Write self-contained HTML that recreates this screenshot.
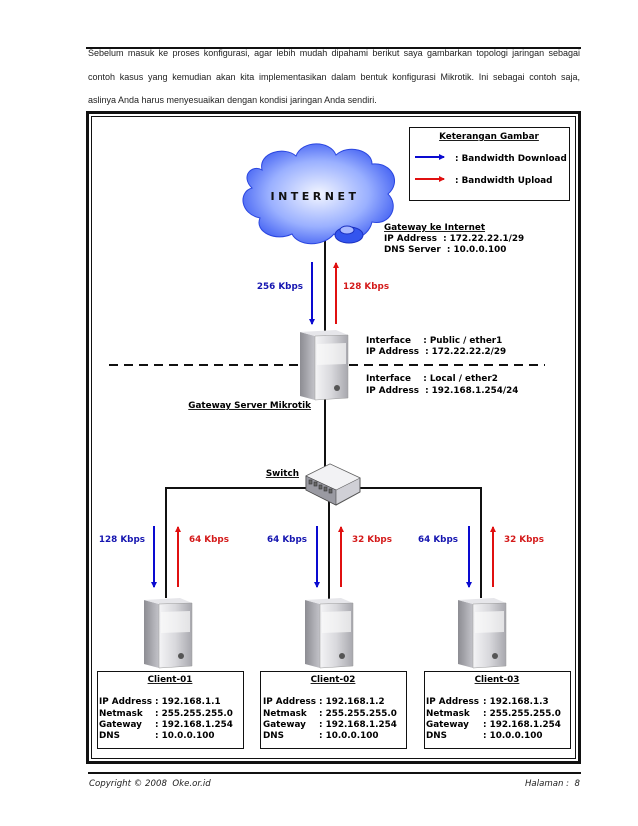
<!DOCTYPE html>
<html><head><meta charset="utf-8"><style>
body{margin:0;background:#fff;width:638px;height:826px;overflow:hidden;font-family:"DejaVu Sans","Liberation Sans",sans-serif}
.p{position:absolute;left:88px;width:492px;font-family:"Liberation Sans",sans-serif;font-size:9px;color:#222;text-align:justify;text-align-last:justify;white-space:nowrap}
</style></head><body>
<div style="position:absolute;left:86px;top:47px;width:495px;height:2px;background:#111"></div>
<div class="p" style="top:48px">Sebelum masuk ke proses konfigurasi, agar lebih mudah dipahami berikut saya gambarkan topologi jaringan sebagai</div>
<div class="p" style="top:72px">contoh kasus yang kemudian akan kita implementasikan dalam bentuk konfigurasi Mikrotik. Ini sebagai contoh saja,</div>
<div class="p" style="top:95px;text-align-last:left">aslinya Anda harus menyesuaikan dengan kondisi jaringan Anda sendiri.</div>
<svg width="638" height="826" style="position:absolute;left:0;top:0" xmlns="http://www.w3.org/2000/svg" font-family="DejaVu Sans, Liberation Sans, sans-serif" font-weight="bold" font-size="8.8">
<defs>
<radialGradient id="cg" cx="50%" cy="50%" r="60%"><stop offset="0" stop-color="#f2f5ff"/><stop offset="0.55" stop-color="#9ab0ff"/><stop offset="1" stop-color="#2f4ff0"/></radialGradient>
<linearGradient id="sf" x1="0" x2="1"><stop offset="0" stop-color="#f4f4f6"/><stop offset="0.5" stop-color="#d8d8dc"/><stop offset="1" stop-color="#a8a8ae"/></linearGradient>
<linearGradient id="ss" x1="0" x2="1"><stop offset="0" stop-color="#8c8c92"/><stop offset="1" stop-color="#c4c4ca"/></linearGradient>
<marker id="ab" markerWidth="6" markerHeight="6" refX="5" refY="3" orient="auto" markerUnits="userSpaceOnUse"><path d="M0,0 L6,3 L0,6z" fill="#0a0ad0"/></marker>
<marker id="ar" markerWidth="6" markerHeight="6" refX="5" refY="3" orient="auto" markerUnits="userSpaceOnUse"><path d="M0,0 L6,3 L0,6z" fill="#e01010"/></marker>
<g id="srv">
<path d="M0,2 L15,6 L15,70 L0,66z" fill="url(#ss)"/>
<path d="M15,6 L0,2 L36,0 L48,5z" fill="#e6e6ea"/>
<path d="M15,6 L48,5 L48,68 L15,70z" fill="url(#sf)" stroke="#999" stroke-width="0.5"/>
<path d="M17,14 L46,13 L46,34 L17,35z" fill="#fafafa" opacity="0.7"/>
<circle cx="37" cy="58" r="3" fill="#555"/>
</g>
</defs>
<rect x="87.5" y="112.5" width="492" height="650" fill="none" stroke="#111" stroke-width="3"/>
<rect x="91.5" y="116.5" width="484" height="642" fill="none" stroke="#111" stroke-width="1"/>
<rect x="409.5" y="127.5" width="160" height="73" fill="#fff" stroke="#111"/>
<text x="489" y="139" text-anchor="middle" text-decoration="underline">Keterangan Gambar</text>
<line x1="415" y1="157" x2="444" y2="157" stroke="#0a0ad0" stroke-width="2" marker-end="url(#ab)"/>
<line x1="415" y1="179" x2="444" y2="179" stroke="#e01010" stroke-width="2" marker-end="url(#ar)"/>
<text x="455" y="161">: Bandwidth Download</text>
<text x="455" y="183">: Bandwidth Upload</text>
<line x1="325" y1="235" x2="325" y2="470" stroke="#111" stroke-width="2"/>
<polyline points="166,598 166,488 481,488 481,598" fill="none" stroke="#111" stroke-width="2"/>
<line x1="329" y1="488" x2="329" y2="600" stroke="#111" stroke-width="2"/>
<line x1="109" y1="365" x2="545" y2="365" stroke="#111" stroke-width="2" stroke-dasharray="9,6"/>
<g fill="url(#cg)" stroke="#2a46e0" stroke-width="1">
<path d="M262,170 C258,152 285,146 296,156 C302,140 330,140 336,155 C348,144 372,150 372,164 C392,162 402,182 388,194 C400,206 390,226 372,222 C368,240 345,244 334,234 C322,248 298,246 292,234 C276,242 254,232 260,218 C240,214 238,192 252,188 C240,176 252,164 262,170z"/>
</g>
<ellipse cx="349" cy="235" rx="14" ry="8" fill="#3355ee" stroke="#1a30c0"/>
<ellipse cx="347" cy="230" rx="7" ry="4" fill="#a8b8ff" stroke="#1a30c0"/>
<text x="315" y="200" text-anchor="middle" font-size="11" letter-spacing="3.5" fill="#111">INTERNET</text>
<text x="384" y="230" text-decoration="underline">Gateway ke Internet</text>
<text x="384" y="241">IP Address&#160;&#160;: 172.22.22.1/29</text>
<text x="384" y="252">DNS Server&#160;&#160;: 10.0.0.100</text>
<line x1="312" y1="262" x2="312" y2="324" stroke="#0a0ad0" stroke-width="2" marker-end="url(#ab)"/>
<line x1="336" y1="324" x2="336" y2="263" stroke="#e01010" stroke-width="2" marker-end="url(#ar)"/>
<text x="303" y="289" text-anchor="end" fill="#1515b0">256 Kbps</text>
<text x="343" y="289" fill="#d41a1a">128 Kbps</text>
<use href="#srv" x="300" y="330"/>
<text x="366" y="343">Interface&#160;&#160;&#160;&#160;: Public / ether1</text>
<text x="366" y="354">IP Address&#160;&#160;: 172.22.22.2/29</text>
<text x="366" y="381">Interface&#160;&#160;&#160;&#160;: Local / ether2</text>
<text x="366" y="393">IP Address&#160;&#160;: 192.168.1.254/24</text>
<text x="311" y="408" text-anchor="end" text-decoration="underline">Gateway Server Mikrotik</text>
<path d="M306,476 L330,464 L360,478 L360,492 L336,505 L306,490z" fill="#d0d0d6" stroke="#555"/>
<path d="M306,476 L330,464 L360,478 L336,490z" fill="#f2f2f4" stroke="#666" stroke-width="0.6"/>
<path d="M306,476 L336,490 L336,505 L306,490z" fill="#9a9aa2" stroke="#444" stroke-width="0.6"/>
<g stroke="#333" stroke-width="0.6" fill="#666"><rect x="309" y="480" width="3" height="4"/><rect x="314" y="482" width="3" height="4"/><rect x="319" y="485" width="3" height="4"/><rect x="324" y="487" width="3" height="4"/><rect x="329" y="489" width="3" height="4"/></g>
<text x="299" y="476" text-anchor="end" text-decoration="underline">Switch</text>
<g stroke-width="2">
<line x1="154" y1="526" x2="154" y2="587" stroke="#0a0ad0" marker-end="url(#ab)"/>
<line x1="178" y1="587" x2="178" y2="527" stroke="#e01010" marker-end="url(#ar)"/>
<line x1="317" y1="526" x2="317" y2="587" stroke="#0a0ad0" marker-end="url(#ab)"/>
<line x1="341" y1="587" x2="341" y2="527" stroke="#e01010" marker-end="url(#ar)"/>
<line x1="469" y1="526" x2="469" y2="587" stroke="#0a0ad0" marker-end="url(#ab)"/>
<line x1="493" y1="587" x2="493" y2="527" stroke="#e01010" marker-end="url(#ar)"/>
</g>
<text x="145" y="542" text-anchor="end" fill="#1515b0">128 Kbps</text>
<text x="189" y="542" fill="#d41a1a">64 Kbps</text>
<text x="307" y="542" text-anchor="end" fill="#1515b0">64 Kbps</text>
<text x="352" y="542" fill="#d41a1a">32 Kbps</text>
<text x="458" y="542" text-anchor="end" fill="#1515b0">64 Kbps</text>
<text x="504" y="542" fill="#d41a1a">32 Kbps</text>
<use href="#srv" x="144" y="598"/>
<use href="#srv" x="305" y="598"/>
<use href="#srv" x="458" y="598"/>
<g>
<rect x="97.5" y="671.5" width="146" height="77" fill="#fff" stroke="#111"/>
<text x="170" y="682" text-anchor="middle" text-decoration="underline">Client-01</text>
<text x="99" y="704">IP Address</text><text x="99" y="716">Netmask</text><text x="99" y="727">Gateway</text><text x="99" y="738">DNS</text>
<text x="155" y="704">:&#160;192.168.1.1</text><text x="155" y="716">:&#160;255.255.255.0</text><text x="155" y="727">:&#160;192.168.1.254</text><text x="155" y="738">:&#160;10.0.0.100</text>
</g>
<g>
<rect x="260.5" y="671.5" width="146" height="77" fill="#fff" stroke="#111"/>
<text x="333" y="682" text-anchor="middle" text-decoration="underline">Client-02</text>
<text x="263" y="704">IP Address</text><text x="263" y="716">Netmask</text><text x="263" y="727">Gateway</text><text x="263" y="738">DNS</text>
<text x="319" y="704">:&#160;192.168.1.2</text><text x="319" y="716">:&#160;255.255.255.0</text><text x="319" y="727">:&#160;192.168.1.254</text><text x="319" y="738">:&#160;10.0.0.100</text>
</g>
<g>
<rect x="424.5" y="671.5" width="146" height="77" fill="#fff" stroke="#111"/>
<text x="497" y="682" text-anchor="middle" text-decoration="underline">Client-03</text>
<text x="426" y="704">IP Address</text><text x="426" y="716">Netmask</text><text x="426" y="727">Gateway</text><text x="426" y="738">DNS</text>
<text x="483" y="704">:&#160;192.168.1.3</text><text x="483" y="716">:&#160;255.255.255.0</text><text x="483" y="727">:&#160;192.168.1.254</text><text x="483" y="738">:&#160;10.0.0.100</text>
</g>
<line x1="88" y1="773" x2="581" y2="773" stroke="#111" stroke-width="2"/>
<text x="89" y="786" font-weight="normal" font-style="italic" font-size="8.6" fill="#222">Copyright © 2008&#160;&#160;Oke.or.id</text>
<text x="580" y="786" text-anchor="end" font-weight="normal" font-style="italic" font-size="8.6" fill="#222">Halaman :&#160;&#160;8</text>
</svg>
</body></html>
